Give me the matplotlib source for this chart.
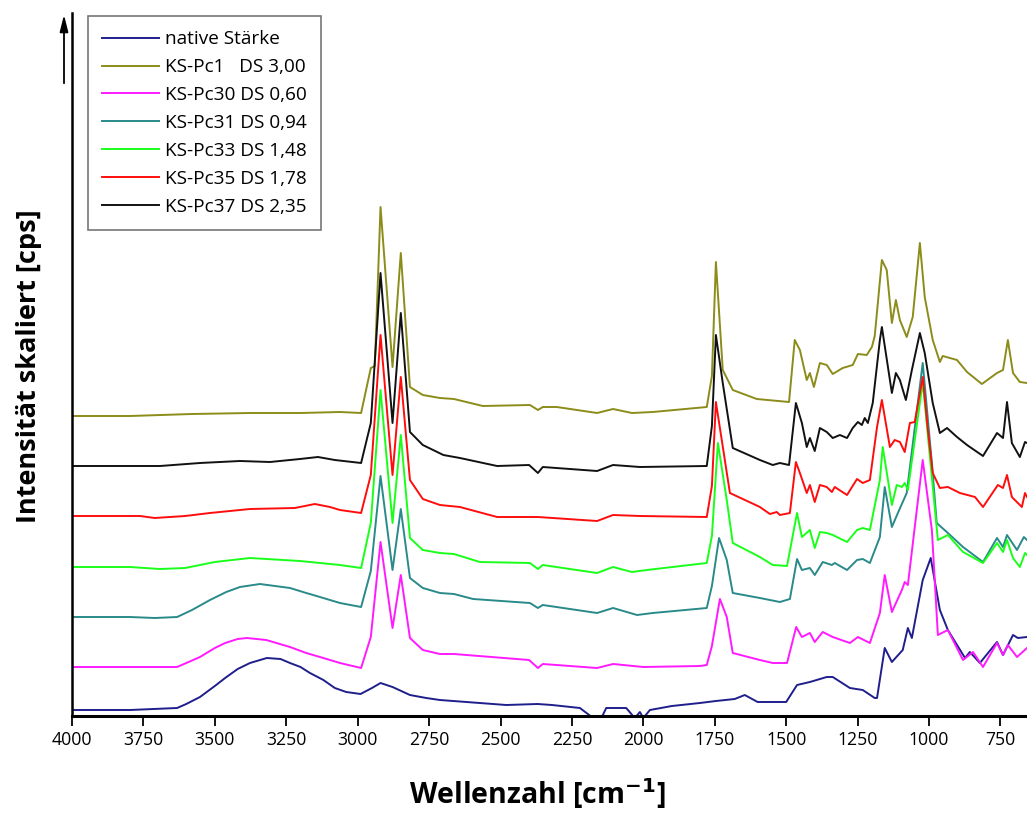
import numpy as np
import matplotlib
matplotlib.use("Agg")
import matplotlib.pyplot as plt

plt.rcParams['font.family'] = ['Open Sans', 'DejaVu Sans']

# wavenumber [cm-1] and scaled intensity, one pair per sample
native_wn = [4000, 3797, 3632, 3600, 3552, 3500, 3464, 3420, 3377, 3318, 3270, 3237, 3200, 3167,
             3120, 3080, 3040, 2990, 2950, 2920, 2878, 2817, 2760, 2712, 2480, 2370, 2320, 2222,
             2176, 2150, 2130, 2060, 2030, 2012, 2000, 1977, 1900, 1802, 1746, 1680, 1645, 1600,
             1500, 1462, 1417, 1358, 1337, 1277, 1232, 1190, 1182, 1155, 1130, 1092, 1074, 1060,
             1022, 994, 962, 934, 874, 857, 822, 762, 741, 706, 689, 657]
native_i = [6, 6, 8, 12, 19, 30, 38, 47, 53, 58, 57, 53, 49, 43,
            36, 28, 24, 22, 28, 33, 29, 21, 18, 16, 11, 12, 11, 8,
            -2, -4, 8, 8, -2, 4, -2, 6, 10, 13, 15, 17, 21, 14,
            14, 31, 34, 39, 39, 28, 26, 18, 18, 68, 54, 66, 88, 78,
            136, 158, 106, 86, 58, 64, 53, 74, 61, 81, 78, 79]

pc1_wn = [4000, 3797, 3580, 3377, 3202, 3062, 2988, 2954, 2940, 2920, 2878, 2849, 2817, 2772,
          2712, 2663, 2562, 2397, 2369, 2352, 2303, 2162, 2106, 2040, 1967, 1778, 1760, 1746,
          1722, 1687, 1603, 1490, 1470, 1452, 1428, 1417, 1403, 1382, 1358, 1337, 1302, 1267,
          1249, 1218, 1200, 1190, 1165, 1148, 1130, 1116, 1102, 1078, 1057, 1032, 1015, 987,
          962, 952, 902, 867, 815, 762, 741, 724, 706, 682, 657]
pc1_i = [300, 300, 302, 303, 303, 304, 303, 348, 350, 509, 349, 463, 329, 321,
         318, 317, 310, 311, 306, 309, 309, 303, 307, 303, 304, 309, 340, 454,
         346, 326, 317, 314, 376, 366, 336, 343, 329, 353, 351, 342, 348, 351,
         362, 361, 369, 380, 456, 446, 393, 416, 396, 379, 399, 473, 419, 376,
         354, 360, 356, 344, 332, 343, 346, 376, 343, 334, 333]

pc30_wn = [4000, 3797, 3632, 3600, 3552, 3500, 3464, 3420, 3388, 3320, 3237, 3180, 3132, 3062,
           2988, 2954, 2920, 2878, 2849, 2817, 2772, 2712, 2663, 2400, 2369, 2352, 2162, 2106,
           2000, 1802, 1778, 1760, 1732, 1708, 1687, 1592, 1547, 1497, 1465, 1445, 1417, 1400,
           1372, 1337, 1277, 1249, 1207, 1172, 1155, 1130, 1095, 1085, 1074, 1022, 990, 969,
           934, 881, 846, 811, 762, 741, 724, 692, 657]
pc30_i = [49, 49, 49, 53, 59, 68, 73, 77, 78, 76, 69, 63, 59, 53,
          48, 79, 174, 88, 141, 78, 66, 62, 62, 56, 48, 52, 48, 52,
          49, 50, 51, 70, 117, 99, 63, 56, 53, 53, 89, 79, 83, 74,
          84, 79, 73, 79, 73, 103, 141, 104, 126, 134, 131, 256, 186, 81,
          86, 56, 64, 49, 73, 61, 71, 59, 68]

pc31_wn = [4000, 3797, 3710, 3632, 3580, 3517, 3460, 3412, 3342, 3237, 3180, 3132, 3062, 2988,
           2954, 2920, 2878, 2849, 2817, 2772, 2712, 2663, 2596, 2397, 2369, 2352, 2162, 2106,
           2022, 1967, 1778, 1760, 1735, 1708, 1687, 1592, 1522, 1487, 1462, 1445, 1417, 1400,
           1372, 1340, 1330, 1287, 1252, 1232, 1207, 1172, 1155, 1130, 1109, 1078, 1022, 990,
           973, 934, 881, 811, 762, 741, 727, 692, 668, 657]
pc31_i = [99, 99, 98, 99, 106, 116, 124, 129, 132, 128, 123, 119, 113, 109,
          145, 240, 146, 207, 138, 128, 123, 122, 117, 113, 108, 111, 103, 108,
          101, 103, 108, 130, 178, 156, 123, 118, 114, 117, 157, 146, 148, 141,
          154, 151, 153, 146, 156, 157, 153, 179, 229, 189, 203, 223, 353, 253,
          193, 183, 169, 154, 178, 169, 181, 166, 179, 176]

pc33_wn = [4000, 3797, 3692, 3604, 3500, 3377, 3202, 3062, 2988, 2954, 2920, 2878, 2849, 2817,
           2772, 2712, 2663, 2572, 2397, 2369, 2352, 2162, 2106, 2040, 1988, 1778, 1760, 1739,
           1708, 1687, 1592, 1547, 1497, 1462, 1445, 1417, 1400, 1382, 1358, 1337, 1287, 1252,
           1232, 1207, 1172, 1162, 1130, 1113, 1095, 1085, 1074, 1022, 969, 934, 881, 811, 762,
           741, 727, 706, 682, 664, 657]
pc33_i = [149, 149, 147, 148, 154, 158, 155, 151, 148, 193, 326, 193, 281, 178,
          166, 163, 162, 154, 153, 147, 151, 143, 149, 144, 146, 153, 180, 273,
          216, 173, 159, 151, 150, 203, 179, 186, 168, 184, 183, 181, 174, 186,
          188, 186, 236, 269, 211, 231, 229, 233, 226, 334, 176, 181, 164, 153, 173,
          164, 176, 158, 149, 163, 161]

pc35_wn = [4000, 3762, 3710, 3604, 3517, 3377, 3220, 3150, 3097, 3062, 2988, 2954, 2920, 2878,
           2849, 2817, 2772, 2712, 2642, 2512, 2369, 2162, 2106, 2012, 1778, 1760, 1746, 1697,
           1592, 1557, 1533, 1522, 1487, 1466, 1452, 1428, 1417, 1400, 1382, 1358, 1340, 1330,
           1287, 1252, 1232, 1207, 1182, 1165, 1137, 1120, 1102, 1085, 1067, 1050, 1022, 1004,
           987, 962, 934, 892, 839, 811, 759, 741, 727, 710, 675, 664, 657]
pc35_i = [200, 200, 198, 200, 203, 207, 208, 212, 209, 206, 203, 241, 381, 241,
          339, 236, 217, 211, 209, 199, 199, 195, 201, 200, 199, 230, 314, 223,
          209, 202, 204, 201, 203, 254, 243, 223, 231, 214, 231, 229, 224, 229,
          221, 237, 233, 236, 289, 316, 269, 276, 274, 264, 293, 294, 339, 286,
          243, 228, 229, 223, 219, 209, 231, 228, 241, 219, 209, 223, 219]

pc37_wn = [4000, 3692, 3552, 3412, 3307, 3202, 3139, 3080, 2988, 2954, 2920, 2878, 2849, 2817,
           2772, 2700, 2642, 2512, 2400, 2369, 2352, 2162, 2106, 2012, 1778, 1760, 1746, 1722,
           1687, 1592, 1547, 1522, 1490, 1466, 1445, 1428, 1417, 1400, 1382, 1358, 1337, 1312,
           1287, 1267, 1249, 1235, 1225, 1214, 1197, 1172, 1165, 1130, 1116, 1102, 1081, 1060,
           1032, 1015, 987, 962, 937, 902, 867, 811, 762, 741, 727, 710, 682, 664, 657]
pc37_i = [250, 250, 253, 255, 254, 257, 259, 256, 253, 293, 443, 293, 403, 284,
          271, 261, 258, 250, 251, 243, 249, 245, 251, 249, 250, 290, 381, 333,
          268, 256, 251, 253, 251, 313, 293, 269, 278, 265, 288, 284, 278, 281,
          278, 288, 294, 291, 298, 293, 313, 376, 389, 323, 343, 336, 316, 346,
          383, 363, 313, 283, 288, 279, 271, 260, 283, 278, 314, 273, 259, 274, 273]

labels = ['native Stärke', 'KS-Pc1   DS 3,00', 'KS-Pc30 DS 0,60', 'KS-Pc31 DS 0,94',
          'KS-Pc33 DS 1,48', 'KS-Pc35 DS 1,78', 'KS-Pc37 DS 2,35']
colors = ['#1f1f8c', '#8c8c1a', '#ff1aff', '#2a8a8a', '#1aff1a', '#ff0d0d', '#111111']
series = [(native_wn, native_i), (pc1_wn, pc1_i), (pc30_wn, pc30_i), (pc31_wn, pc31_i),
          (pc33_wn, pc33_i), (pc35_wn, pc35_i), (pc37_wn, pc37_i)]
xticks = [4000, 3750, 3500, 3250, 3000, 2750, 2500, 2250, 2000, 1750, 1500, 1250, 1000, 750]

W, H = 1027, 817
fig = plt.figure(figsize=(W / 100, H / 100), dpi=100)
ax = fig.add_axes([72 / W, (H - 716) / H, (W - 72) / W, 703 / H])

for (wn, inten), lab, col in zip(series, labels, colors):
    ax.plot(wn, inten, color=col, lw=1.4, label=lab)

ax.set_xlim(4000, 657)
ax.set_ylim(0, 703)
ax.set_xticks(xticks)
ax.set_yticks([])
ax.tick_params(axis='x', direction='out', length=7, width=1.3, labelsize=12.7, pad=4)
for s in ['top', 'right']:
    ax.spines[s].set_visible(False)
ax.spines['left'].set_linewidth(1.8)
ax.spines['bottom'].set_linewidth(2.2)

ax.set_xlabel('Wellenzahl [cm$^{\\mathbf{-1}}$]', fontsize=20.5, fontweight='bold')
ax.xaxis.set_label_coords(0.487, -0.086)
ax.set_ylabel('Intensität skaliert [cps]', fontsize=19.5, fontweight='bold')
ax.yaxis.set_label_coords(-0.031, 0.498)

# arrow beside the intensity axis
ax.annotate('', xy=(64 / W, 1 - 12 / H), xytext=(64 / W, 1 - 86 / H),
            xycoords='figure fraction', textcoords='figure fraction',
            arrowprops=dict(arrowstyle='-|>,head_width=0.25,head_length=1.0', color='black', lw=1.3))

leg = ax.legend(loc='upper left', bbox_to_anchor=(88 / W, 1 - 16 / H), bbox_transform=fig.transFigure,
                borderaxespad=0, fontsize=13.7, frameon=True, fancybox=False, edgecolor='#555555',
                handlelength=3.0, handletextpad=0.3, labelspacing=0.52, borderpad=0.75)
leg.get_frame().set_linewidth(1.2)

fig.savefig('out.png', dpi=100)
